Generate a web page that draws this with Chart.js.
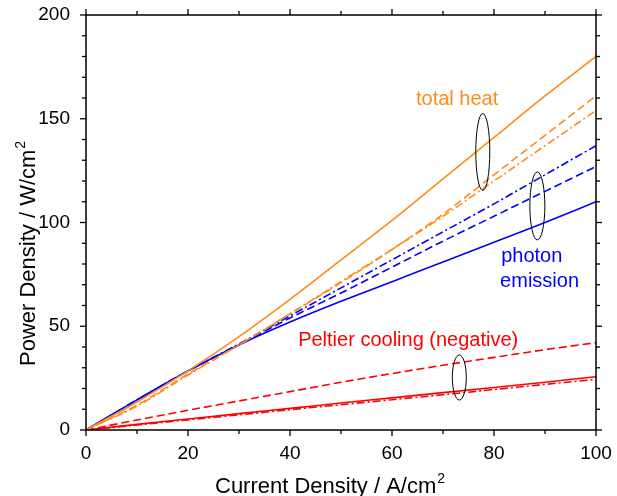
<!DOCTYPE html>
<html>
<head>
<meta charset="utf-8">
<script src="https://cdn.jsdelivr.net/npm/chart.js@4/dist/chart.umd.min.js"></script>
<style>
  html, body { margin: 0; padding: 0; background: #fff; }
  #wrap { width: 617px; height: 496px; }
</style>
</head>
<body>
<div id="wrap"><canvas id="powerChart"></canvas></div>
<script>
// Data (current density in A/cm2, power density in W/cm2)
const currentDensity = [0, 10, 20, 30, 40, 50, 60, 70, 80, 90, 100];

const heatSolid     = [0, 13.5, 28.5, 45, 63, 82, 101, 121, 141, 161, 180];
const heatDash      = [0, 12, 27, 41, 56, 71, 87, 104, 123, 142, 161];
const heatDashDot   = [0, 11.5, 26.5, 41, 56, 71.5, 87, 103, 120, 137, 154];

const photonSolid   = [0, 14.5, 28.5, 41, 52, 62, 71.5, 81, 90.5, 100, 110];
const photonDash    = [0, 14.5, 28.5, 41, 54, 66, 78.5, 91, 103, 115, 127];
const photonDashDot = [0, 14.5, 28.5, 41.5, 55, 68.5, 82, 95.5, 109, 123, 137];

const peltierSolid   = [0, 2.7, 5.3, 7.9, 10.4, 13, 15.5, 18, 20.5, 23, 25.7];
const peltierDash    = [0, 4.8, 9.5, 14, 18.5, 23, 27.2, 31.2, 35, 38.7, 42.1];
const peltierDashDot = [0, 2.4, 4.9, 7.3, 9.8, 12.2, 14.6, 17, 19.5, 22, 24.4];

const xMajorTicks = [0, 20, 40, 60, 80, 100];
const xMinorTicks = [10, 30, 50, 70, 90];
const yMajorTicks = [0, 50, 100, 150, 200];
const yMinorTicks = [10, 20, 30, 40, 60, 70, 80, 90, 110, 120, 130, 140, 160, 170, 180, 190];

// annotations (data coordinates)
const labelTexts  = ['total heat', 'photon', 'emission', 'Peltier cooling (negative)'];
const labelX      = [64.7, 81.4, 81.2, 41.6];
const labelY      = [156.8, 81, 69, 40.5];
const ellipseX    = [77.8, 88.5, 73.2];
const ellipseY    = [134, 108, 25.3];

const X_TITLE = 'Current Density / A/cm';
const Y_TITLE = 'Power Density / W/cm';

const ORANGE = '#ff8c1a';
const BLUE = '#0000ff';
const RED = '#ff0000';
const labelColors = [ORANGE, BLUE, BLUE, RED];
const ellipseRadii = [[7, 38.5], [7.5, 34], [7, 22.5]];

const DASH = [8, 4];
const DASH_DOT = [8, 3, 2, 3];
const FONT = '"Liberation Sans", Arial, sans-serif';

const toPoints = (ys) => currentDensity.map((x, i) => ({ x: x, y: ys[i] }));

function series(label, ys, color, dash) {
    return {
        label: label,
        data: toPoints(ys),
        borderColor: color,
        backgroundColor: color,
        borderWidth: 1.6,
        borderDash: dash,
        pointRadius: 0,
        cubicInterpolationMode: 'monotone',
        fill: false
    };
}

// axis title with a raised small "2"
function titleWithSup(ctx, text, x, y) {
    ctx.font = '22px ' + FONT;
    ctx.fillText(text, x, y);
    const w = ctx.measureText(text).width;
    ctx.font = '14px ' + FONT;
    ctx.fillText('2', x + w + 1, y - 10);
}

// frame, tick marks, ellipses, text labels and axis titles
const framePlugin = {
    id: 'frame',
    afterDatasetsDraw(chart) {
        const { ctx, chartArea: a, scales: { x, y } } = chart;
        ctx.save();

        // ellipses
        ctx.strokeStyle = '#000';
        ctx.lineWidth = 1;
        ellipseX.forEach((ex, i) => {
            ctx.beginPath();
            ctx.ellipse(x.getPixelForValue(ex), y.getPixelForValue(ellipseY[i]),
                ellipseRadii[i][0], ellipseRadii[i][1], 0, 0, Math.PI * 2);
            ctx.stroke();
        });

        // texts
        ctx.font = '20px ' + FONT;
        ctx.textBaseline = 'alphabetic';
        ctx.textAlign = 'left';
        labelTexts.forEach((t, i) => {
            ctx.fillStyle = labelColors[i];
            ctx.fillText(t, x.getPixelForValue(labelX[i]), y.getPixelForValue(labelY[i]));
        });

        // axis titles
        ctx.fillStyle = '#000';
        titleWithSup(ctx, X_TITLE, 215, 493);
        ctx.save();
        ctx.translate(35, 366);
        ctx.rotate(-Math.PI / 2);
        titleWithSup(ctx, Y_TITLE, 0, 0);
        ctx.restore();

        // box
        ctx.strokeStyle = '#000';
        ctx.lineWidth = 1.5;
        ctx.strokeRect(a.left, a.top, a.right - a.left, a.bottom - a.top);

        const seg = (x1, y1, x2, y2) => {
            ctx.beginPath();
            ctx.moveTo(x1, y1);
            ctx.lineTo(x2, y2);
            ctx.stroke();
        };
        ctx.lineWidth = 1.3;
        xMajorTicks.forEach(v => {
            const p = x.getPixelForValue(v);
            seg(p, a.bottom, p, a.bottom + 6);
            seg(p, a.top, p, a.top - 6);
        });
        xMinorTicks.forEach(v => {
            const p = x.getPixelForValue(v);
            seg(p, a.bottom, p, a.bottom + 4);
            seg(p, a.top, p, a.top - 4);
        });
        yMajorTicks.forEach(v => {
            const p = y.getPixelForValue(v);
            seg(a.left - 6, p, a.left, p);
            seg(a.right, p, a.right + 6, p);
        });
        yMinorTicks.forEach(v => {
            const p = y.getPixelForValue(v);
            seg(a.left - 4, p, a.left, p);
            seg(a.right, p, a.right + 4, p);
        });
        ctx.restore();
    }
};

Chart.defaults.font.family = FONT;
Chart.defaults.color = '#000';

const noPad = (s) => { s.paddingLeft = 0; s.paddingRight = 0; s.paddingTop = 0; s.paddingBottom = 0; };

new Chart(document.getElementById('powerChart'), {
    type: 'line',
    data: {
        datasets: [
            series('heat', heatSolid, ORANGE, []),
            series('heat dash', heatDash, ORANGE, DASH),
            series('heat dash-dot', heatDashDot, ORANGE, DASH_DOT),
            series('photon', photonSolid, BLUE, []),
            series('photon dash', photonDash, BLUE, DASH),
            series('photon dash-dot', photonDashDot, BLUE, DASH_DOT),
            series('peltier', peltierSolid, RED, []),
            series('peltier dash', peltierDash, RED, DASH),
            series('peltier dash-dot', peltierDashDot, RED, DASH_DOT)
        ]
    },
    options: {
        responsive: true,
        maintainAspectRatio: false,
        animation: false,
        layout: { padding: { left: 0, right: 21, top: 15, bottom: 0 } },
        plugins: { legend: { display: false }, tooltip: { enabled: false } },
        scales: {
            x: {
                type: 'linear',
                min: 0, max: 100,
                grid: { display: false, drawTicks: false },
                border: { display: false },
                ticks: { stepSize: 20, padding: 12, font: { size: 19 } },
                title: { display: false },
                afterFit: (s) => { s.height = 66; noPad(s); }
            },
            y: {
                type: 'linear',
                min: 0, max: 200,
                grid: { display: false, drawTicks: false },
                border: { display: false },
                ticks: { stepSize: 50, padding: 16, font: { size: 19 } },
                title: { display: false },
                afterFit: (s) => { s.width = 86; noPad(s); }
            }
        }
    },
    plugins: [framePlugin]
});
</script>
</body>
</html>
